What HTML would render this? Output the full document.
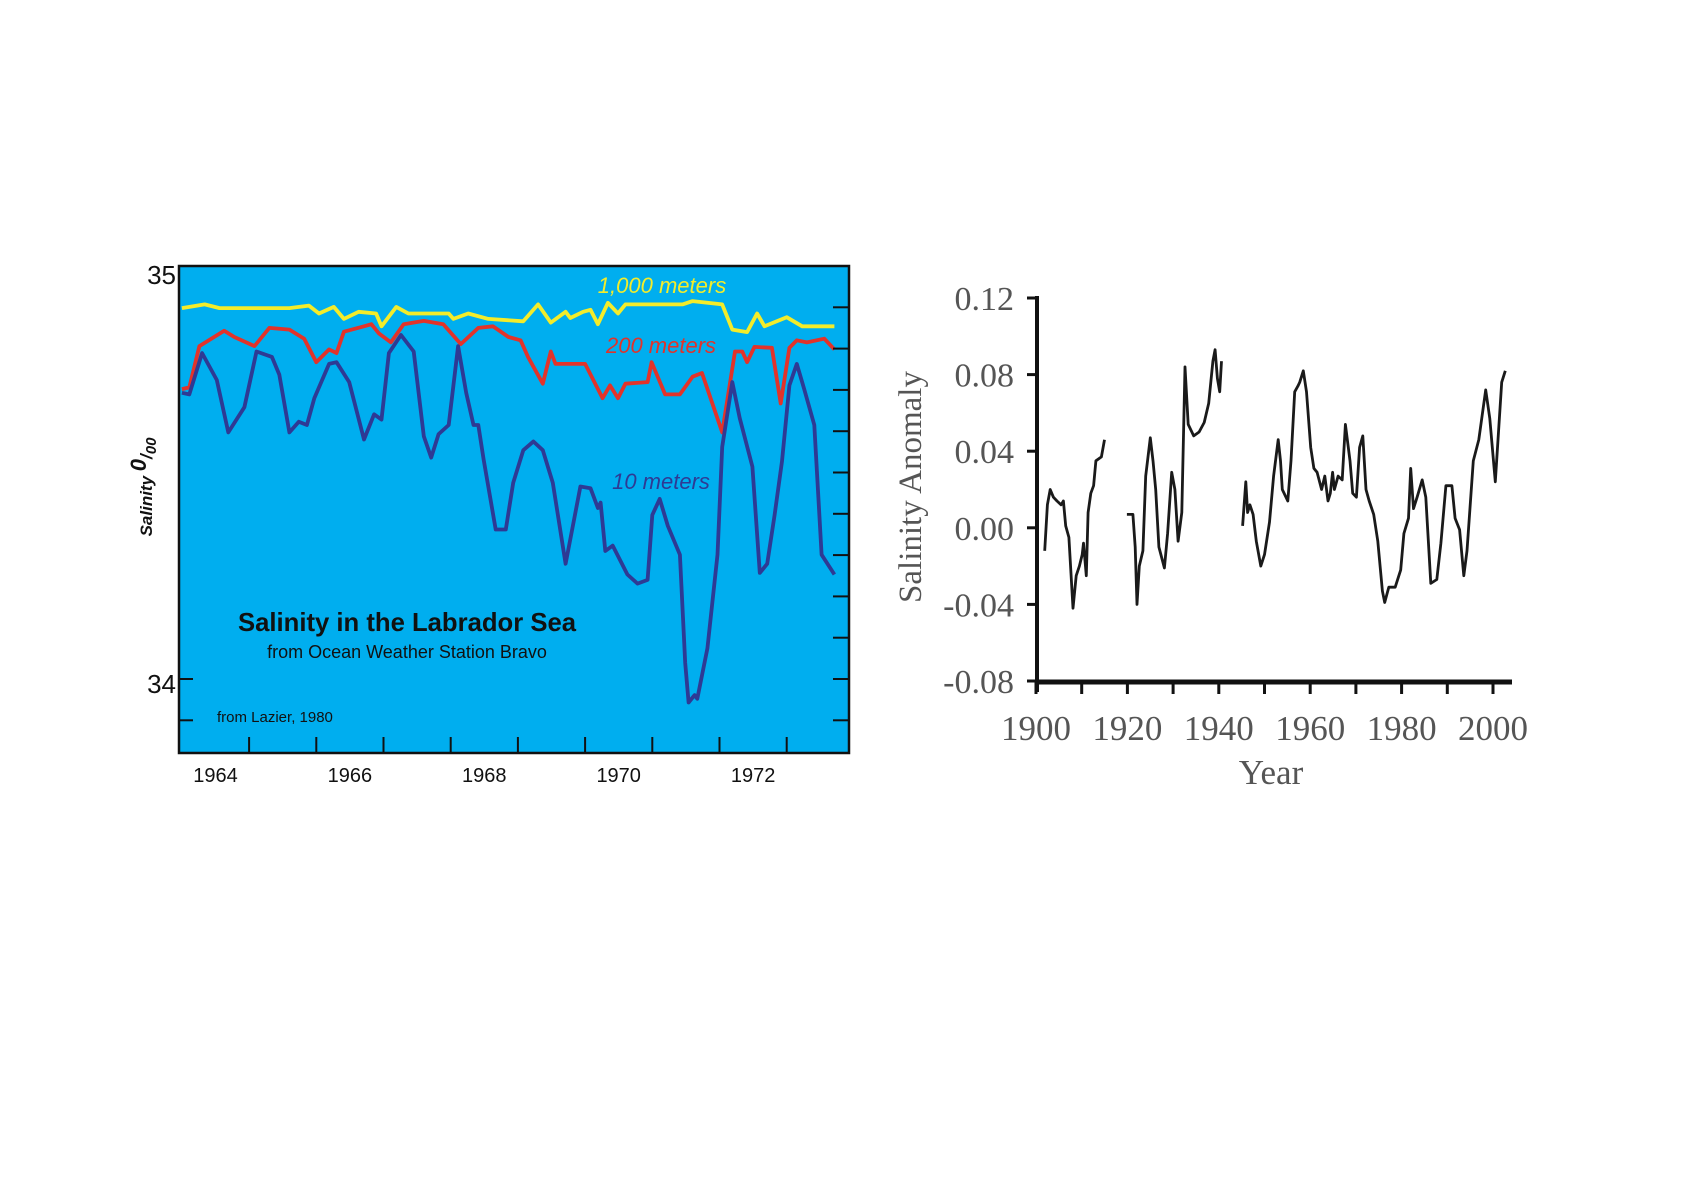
<!DOCTYPE html>
<html><head><meta charset="utf-8"><title>Salinity charts</title>
<style>
html,body{margin:0;padding:0;background:#fff;}
svg{display:block;}
.nar{font-family:"Liberation Sans",sans-serif;}
.ser{font-family:"Liberation Serif",serif;}
</style></head>
<body>
<svg id="svg" width="1684" height="1190" viewBox="0 0 1684 1190" xmlns="http://www.w3.org/2000/svg">
<g id="left"></g>
<g id="right"></g>
</svg>
<script>
// ---------- Left chart data ----------
const yearsY = [1963.50,1963.84,1964.06,1964.50,1965.10,1965.39,1965.54,1965.76,1965.91,1966.13,1966.39,1966.47,1966.69,1966.87,1967.47,1967.54,1967.76,1968.06,1968.58,1968.80,1968.99,1969.21,1969.28,1969.47,1969.58,1969.69,1969.84,1969.99,1970.10,1970.95,1971.10,1971.54,1971.69,1971.91,1972.06,1972.17,1972.50,1972.73,1973.21];
const sal1000 = [34.898,34.907,34.898,34.898,34.898,34.904,34.885,34.901,34.872,34.889,34.885,34.854,34.901,34.885,34.885,34.872,34.885,34.872,34.866,34.907,34.863,34.889,34.874,34.889,34.894,34.859,34.911,34.885,34.907,34.907,34.915,34.907,34.846,34.840,34.885,34.854,34.876,34.854,34.854];
const yearsR = [1963.50,1963.61,1963.76,1964.13,1964.28,1964.58,1964.80,1965.10,1965.32,1965.50,1965.69,1965.80,1965.91,1966.21,1966.32,1966.43,1966.61,1966.80,1967.10,1967.39,1967.65,1967.91,1968.13,1968.36,1968.54,1968.65,1968.87,1968.99,1969.06,1969.50,1969.76,1969.87,1969.99,1970.10,1970.43,1970.49,1970.69,1970.91,1971.10,1971.24,1971.54,1971.73,1971.84,1971.91,1972.02,1972.28,1972.41,1972.54,1972.65,1972.80,1973.06,1973.21];
const sal200 = [34.702,34.706,34.806,34.843,34.828,34.806,34.850,34.846,34.824,34.767,34.798,34.789,34.841,34.854,34.859,34.837,34.815,34.859,34.867,34.859,34.811,34.850,34.854,34.828,34.820,34.780,34.715,34.793,34.763,34.763,34.680,34.711,34.680,34.715,34.719,34.767,34.689,34.689,34.732,34.741,34.597,34.793,34.793,34.767,34.804,34.802,34.667,34.802,34.820,34.815,34.824,34.798];
const yearsB = [1963.50,1963.61,1963.80,1964.02,1964.19,1964.43,1964.61,1964.84,1964.95,1965.10,1965.24,1965.36,1965.47,1965.69,1965.80,1965.99,1966.21,1966.36,1966.47,1966.58,1966.65,1966.76,1966.95,1967.10,1967.21,1967.32,1967.47,1967.61,1967.73,1967.84,1967.91,1967.99,1968.17,1968.32,1968.43,1968.58,1968.73,1968.87,1969.02,1969.21,1969.43,1969.58,1969.69,1969.73,1969.80,1969.91,1970.13,1970.28,1970.43,1970.50,1970.61,1970.73,1970.91,1970.99,1971.04,1971.13,1971.17,1971.32,1971.47,1971.54,1971.69,1971.80,1971.99,1972.10,1972.21,1972.32,1972.43,1972.54,1972.65,1972.76,1972.91,1973.02,1973.21];
const sal10 = [34.693,34.689,34.789,34.724,34.597,34.658,34.793,34.780,34.737,34.597,34.623,34.615,34.680,34.763,34.767,34.719,34.580,34.641,34.628,34.789,34.806,34.833,34.793,34.588,34.536,34.593,34.615,34.806,34.693,34.615,34.615,34.532,34.362,34.362,34.475,34.554,34.575,34.554,34.475,34.279,34.466,34.462,34.414,34.427,34.310,34.323,34.253,34.231,34.240,34.397,34.436,34.371,34.301,34.039,33.943,33.961,33.952,34.074,34.301,34.562,34.719,34.632,34.514,34.257,34.279,34.397,34.527,34.711,34.763,34.702,34.615,34.301,34.253];
const leftXLabels = [1964,1966,1968,1970,1972];
const leftYLabels = [35,34];

// ---------- Right chart data ----------
const anomYears1 = [1901.9,1902.5,1903.1,1903.8,1904.6,1905.5,1906.0,1906.5,1907.2,1908.1,1908.8,1909.5,1910.1,1910.4,1911.0,1911.4,1912.0,1912.6,1913.1,1914.3,1915.0];
const anomVals1 = [-0.012,0.012,0.020,0.016,0.014,0.012,0.014,0.001,-0.005,-0.042,-0.025,-0.020,-0.014,-0.008,-0.025,0.008,0.018,0.022,0.035,0.037,0.046];
const anomYears2 = [1919.9,1921.2,1921.7,1922.1,1922.6,1923.4,1924.0,1925.0,1925.6,1926.2,1926.9,1928.1,1928.8,1929.7,1930.4,1931.1,1931.9,1932.6,1933.3,1934.5,1935.7,1936.8,1937.8,1938.7,1939.2,1939.7,1940.2,1940.6];
const anomVals2 = [0.007,0.007,-0.010,-0.040,-0.020,-0.012,0.027,0.047,0.035,0.020,-0.010,-0.021,-0.003,0.029,0.020,-0.007,0.008,0.084,0.054,0.048,0.050,0.055,0.065,0.087,0.093,0.078,0.071,0.087];
const anomYears3 = [1945.2,1945.9,1946.3,1946.8,1947.5,1948.2,1949.2,1950.0,1951.1,1952.0,1953.0,1953.5,1953.9,1955.1,1955.8,1956.6,1957.3,1957.7,1958.5,1959.2,1960.1,1960.8,1961.5,1962.5,1963.2,1963.9,1964.4,1964.9,1965.3,1966.1,1967.0,1967.7,1968.7,1969.3,1970.1,1970.8,1971.5,1972.2,1972.9,1973.9,1974.8,1975.8,1976.3,1977.2,1978.6,1979.8,1980.5,1981.5,1982.0,1982.6,1983.4,1984.5,1985.3,1986.4,1987.7,1988.6,1989.7,1991.0,1991.7,1992.7,1993.6,1994.3,1995.7,1996.9,1998.4,1999.3,2000.5,2001.2,2001.9,2002.7];
const anomVals3 = [0.001,0.024,0.008,0.012,0.007,-0.007,-0.020,-0.014,0.003,0.027,0.046,0.035,0.020,0.014,0.035,0.071,0.074,0.076,0.082,0.071,0.042,0.031,0.029,0.020,0.027,0.014,0.018,0.029,0.020,0.027,0.025,0.054,0.035,0.018,0.016,0.042,0.048,0.020,0.014,0.007,-0.007,-0.033,-0.039,-0.031,-0.031,-0.022,-0.003,0.005,0.031,0.010,0.016,0.025,0.016,-0.029,-0.027,-0.008,0.022,0.022,0.005,-0.001,-0.025,-0.012,0.035,0.046,0.072,0.057,0.024,0.050,0.076,0.082];
const rightXLabels = ["1900","1920","1940","1960","1980","2000"];
const rightYLabels = ["0.12","0.08","0.04","0.00","-0.04","-0.08"];
const rightYValues = [0.12,0.08,0.04,0.00,-0.04,-0.08];

const NS = "http://www.w3.org/2000/svg";
function mk(tag, attrs, parent){
  const e = document.createElementNS(NS, tag);
  for (const k in attrs) e.setAttribute(k, attrs[k]);
  parent.appendChild(e);
  return e;
}

// ---------- Left chart ----------
const L = document.getElementById('left');
const lx = y => 215.5 + (y - 1964) * 67.2;
const ly = s => 266 + (35 - s) * 413;
const bg = mk('rect',{x:179,y:266,width:670,height:487,fill:'#00AEEF'},L);


function lineL(xs, vs, color, name){
  const d = xs.map((x,i)=>(i?'L':'M')+lx(x).toFixed(1)+' '+ly(vs[i]).toFixed(1)).join(' ');
  const p = mk('path',{d:d,fill:'none',stroke:color,'stroke-width':3.8,'stroke-linejoin':'round'},L);
  
  
}
lineL(yearsY, sal1000, '#F3EC2A', 'line-1000-meters');
lineL(yearsR, sal200, '#E2332A', 'line-200-meters');
lineL(yearsB, sal10, '#2E3A94', 'line-10-meters');
for (let k=1;k<12;k++){
  const y = ly(35 - k*0.1);
  const t = mk('line',{x1:849-16,x2:849,y1:y,y2:y,stroke:'#111','stroke-width':2},L);
  
  
}
[34.0,33.9].forEach(v=>{
  const t = mk('line',{x1:179,x2:193,y1:ly(v),y2:ly(v),stroke:'#111','stroke-width':2},L);
  
  
});
for (let yr=1964.5; yr<1973.3; yr+=1){
  const t = mk('line',{x1:lx(yr),x2:lx(yr),y1:753-16,y2:753,stroke:'#111','stroke-width':2},L);
  
  
}
const border = mk('rect',{x:179,y:266,width:670,height:487,fill:'none',stroke:'#111','stroke-width':2.5},L);


leftXLabels.forEach(yr=>{
  const t = mk('text',{x:lx(yr),y:782,'text-anchor':'middle','font-size':20,fill:'#111',class:'nar'},L);
  t.textContent = yr;
  
  
});
leftYLabels.forEach(v=>{
  const t = mk('text',{x:176,y:ly(v)+(v===35?18:14),'text-anchor':'end','font-size':26,fill:'#111',class:'nar'},L);
  t.textContent = v;
  
  
});

function txt(str, attrs, name){
  const t = mk('text', attrs, L);
  t.textContent = str;
  
  
  return t;
}
txt('1,000 meters',{x:662,y:293,'text-anchor':'middle','font-size':22,'font-style':'italic',fill:'#F3EC2A',class:'nar'},'label-1000-meters');
txt('200 meters',{x:661,y:353,'text-anchor':'middle','font-size':22,'font-style':'italic',fill:'#E2332A',class:'nar'},'label-200-meters');
txt('10 meters',{x:661,y:489,'text-anchor':'middle','font-size':22,'font-style':'italic',fill:'#2E3A94',class:'nar'},'label-10-meters');
txt('Salinity in the Labrador Sea',{x:407,y:631,'text-anchor':'middle','font-size':26,'font-weight':'bold',fill:'#111',class:'nar',textLength:338,lengthAdjust:'spacingAndGlyphs'},'chart-title');
txt('from Ocean Weather Station Bravo',{x:407,y:658,'text-anchor':'middle','font-size':18,fill:'#111',class:'nar'},'chart-subtitle');
txt('from Lazier, 1980',{x:217,y:722,'font-size':15,fill:'#111',class:'nar'},'source-note');
const yt = mk('text',{transform:'translate(152,487) rotate(-90)','text-anchor':'middle','font-size':17,'font-style':'italic','font-weight':'bold',fill:'#111',class:'nar'},L);


yt.innerHTML = 'Salinity <tspan font-size="22" dy="-6">0</tspan><tspan dy="6">/</tspan><tspan font-size="15" dy="4">00</tspan>';

// ---------- Right chart ----------
const R = document.getElementById('right');
const rx = y => 1036 + (y - 1900) * 4.57;
const ry = v => 681 - (v + 0.08) * 1915;
function lineR(xs, vs, name){
  const d = xs.map((x,i)=>(i?'L':'M')+rx(x).toFixed(1)+' '+ry(vs[i]).toFixed(1)).join(' ');
  const p = mk('path',{d:d,fill:'none',stroke:'#1a1a1a','stroke-width':2.8,'stroke-linejoin':'round'},R);
  
  
}
lineR(anomYears1, anomVals1, 'anomaly-segment-1');
lineR(anomYears2, anomVals2, 'anomaly-segment-2');
lineR(anomYears3, anomVals3, 'anomaly-segment-3');
const ya = mk('line',{x1:1037,x2:1037,y1:296,y2:692,stroke:'#111','stroke-width':4},R);


const xa = mk('line',{x1:1035,x2:1512,y1:682,y2:682,stroke:'#111','stroke-width':5},R);


rightYValues.forEach((v,i)=>{
  const t = mk('line',{x1:1027,x2:1037,y1:ry(v),y2:ry(v),stroke:'#111','stroke-width':3},R);
  
  
  const l = mk('text',{x:1014,y:ry(v)+12,'text-anchor':'end','font-size':34,fill:'#555',class:'ser'},R);
  l.textContent = rightYLabels[i];
  
  
});
for (let yr=1900; yr<=2000; yr+=10){
  const t = mk('line',{x1:rx(yr),x2:rx(yr),y1:682,y2:694,stroke:'#111','stroke-width':3},R);
  
  
}
rightXLabels.forEach(s=>{
  const l = mk('text',{x:rx(+s),y:740,'text-anchor':'middle','font-size':35,fill:'#555',class:'ser'},R);
  l.textContent = s;
  
  
});
const xt = mk('text',{x:1271,y:784,'text-anchor':'middle','font-size':35,fill:'#555',class:'ser'},R);
xt.textContent = 'Year';


const yt2 = mk('text',{transform:'translate(921,487) rotate(-90)','text-anchor':'middle','font-size':33,fill:'#555',class:'ser'},R);
yt2.textContent = 'Salinity Anomaly';


</script>
</body></html>
